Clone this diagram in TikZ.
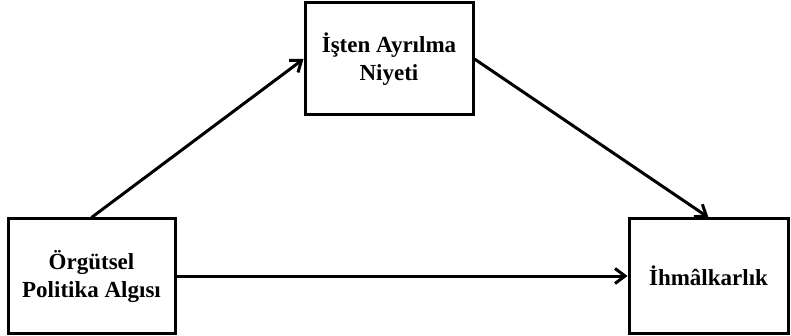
\documentclass[tikz,border=0pt]{standalone}
\usepackage{fontspec}
\setmainfont{Liberation Serif}
\usetikzlibrary{arrows.meta}
\begin{document}
\begin{tikzpicture}[x=1pt,y=-1pt,
  box/.style={draw,line width=3pt,align=center,inner sep=0pt,
    font=\fontsize{23}{28}\selectfont\bfseries},
  conn/.style={line width=3pt,-{Straight Barb[length=10pt,width=15pt]}}]
\useasboundingbox (0,0) rectangle (791,336);
\node[box,minimum width=167pt,minimum height=114pt] (L) at (91.5,276) {Örgütsel\\Politika Algısı};
\node[box,minimum width=168pt,minimum height=112pt] (T) at (389,59) {İşten Ayrılma\\Niyeti};
\node[box,minimum width=159pt,minimum height=114pt] (R) at (708.5,276) {İhmâlkarlık};
\draw[conn] (L.north) -- (T.west);
\draw[conn] (T.east) -- (R.north);
\draw[conn] (L.east) -- (R.west);
\end{tikzpicture}
\end{document}
